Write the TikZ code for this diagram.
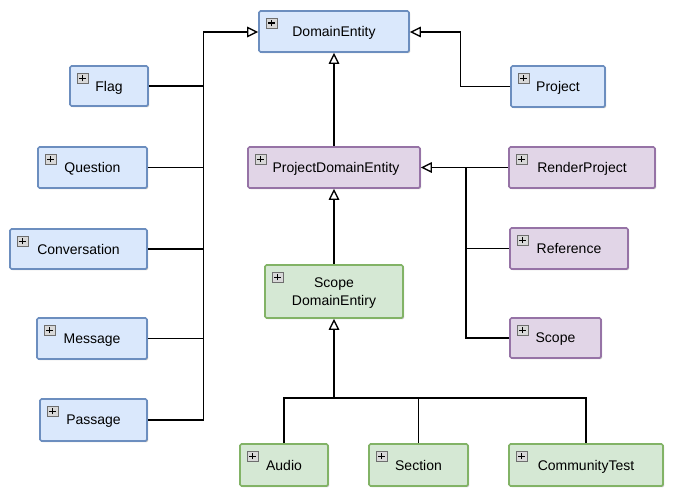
\documentclass[tikz,border=0pt]{standalone}
\usepackage{fontspec}
\setmainfont{Liberation Sans}
\usetikzlibrary{arrows.meta,shadows}
\definecolor{bfill}{HTML}{DAE8FC}
\definecolor{bdraw}{HTML}{6C8EBF}
\definecolor{pfill}{HTML}{E1D5E7}
\definecolor{pdraw}{HTML}{9673A6}
\definecolor{gfill}{HTML}{D5E8D4}
\definecolor{gdraw}{HTML}{82B366}
\definecolor{iconfill}{HTML}{D8D8D8}
\definecolor{icondraw}{HTML}{6E6E6E}
\begin{document}
\begin{tikzpicture}[x=1pt,y=-1pt,
  umlbox/.style={draw, line width=1.7pt, rounded corners=1.5pt, inner sep=0pt,
    font=\fontsize{14}{18}\selectfont, align=center, text depth=0pt,
    drop shadow={shadow xshift=1.2pt, shadow yshift=-1.2pt, opacity=0.25, fill=black}},
  bluebox/.style={umlbox, fill=bfill, draw=bdraw},
  purplebox/.style={umlbox, fill=pfill, draw=pdraw},
  greenbox/.style={umlbox, fill=gfill, draw=gdraw},
  plusicon/.style={draw=icondraw, line width=0.6pt, fill=iconfill, minimum size=10.5pt, inner sep=0pt,
    path picture={
      \draw[line width=1.3pt, black] ([xshift=-3.2pt]path picture bounding box.center) -- ([xshift=3.2pt]path picture bounding box.center);
      \draw[line width=1.3pt, black] ([yshift=-3.2pt]path picture bounding box.center) -- ([yshift=3.2pt]path picture bounding box.center);
    }},
  conn/.style={draw, line width=1.3pt, black},
  inh/.style={conn, -{Triangle[open, length=11pt, width=10.5pt, fill=white]}}
]
\useasboundingbox (0,0) rectangle (677,495);

% nodes
\node[bluebox, minimum width=150, minimum height=41] (de) at (334,31.5) {DomainEntity};
\node[bluebox, minimum width=78, minimum height=40] (flag) at (109,86) {Flag};
\node[bluebox, minimum width=109, minimum height=41] (question) at (92.5,167.5) {Question};
\node[bluebox, minimum width=137, minimum height=40] (conversation) at (78.5,249) {Conversation};
\node[bluebox, minimum width=110, minimum height=41] (message) at (92,338.5) {Message};
\node[bluebox, minimum width=107, minimum height=42] (passage) at (93.5,420) {Passage};
\node[bluebox, minimum width=94, minimum height=41] (project) at (558,86.5) {Project};

\node[purplebox, minimum width=172, minimum height=41] (pde) at (334,167.5) {\hspace*{4pt}ProjectDomainEntity};
\node[purplebox, minimum width=146, minimum height=41] (render) at (582,167.5) {RenderProject};
\node[purplebox, minimum width=118, minimum height=41] (reference) at (569,248.5) {Reference};
\node[purplebox, minimum width=91, minimum height=40] (scope) at (555.5,338) {Scope};

\node[greenbox, minimum width=138, minimum height=53] (sde) at (334,291.5) {Scope\\DomainEntiry};
\node[greenbox, minimum width=88, minimum height=42] (audio) at (284,465) {Audio};
\node[greenbox, minimum width=99, minimum height=42] (section) at (418.5,465) {Section};
\node[greenbox, minimum width=154, minimum height=42] (community) at (586,465) {CommunityTest};

% icons
\foreach \n in {de,flag,question,conversation,message,passage,project,pde,render,reference,scope,sde,audio,section,community}
  \node[plusicon] (icon-\n) at ([xshift=13.5pt,yshift=-13pt]\n.north west) {};

% bus coordinates
\coordinate (lbus) at (203.5,32);
\coordinate (pbus) at (460.5,32);
\coordinate (rbus) at (466,167.5);
\coordinate (bbus) at (334,398);

% left group -> DomainEntity
\draw[inh] (passage.east) -| (lbus) -- (de.west |- lbus);
\foreach \n in {flag,question,conversation,message}
  \draw[conn] (\n.east) -- (\n.east -| lbus);

% Project -> DomainEntity
\draw[inh] (project.west) -| (pbus) -- (de.east |- pbus);

% ProjectDomainEntity -> DomainEntity
\draw[inh] (pde.north) -- (de.south);

% right purple group -> ProjectDomainEntity
\draw[inh] (render.west) -- (pde.east);
\draw[conn] (scope.west) -| (rbus);
\draw[conn] (reference.west) -- (reference.west -| rbus);

% Scope DomainEntiry -> ProjectDomainEntity
\draw[inh] (sde.north) -- (pde.south);

% bottom group -> Scope DomainEntiry
\draw[inh] (bbus) -- (sde.south);
\draw[conn] (audio.north) |- (community.north |- bbus) -- (community.north);
\draw[conn] (section.north) -- (section.north |- bbus);
\end{tikzpicture}
\end{document}
